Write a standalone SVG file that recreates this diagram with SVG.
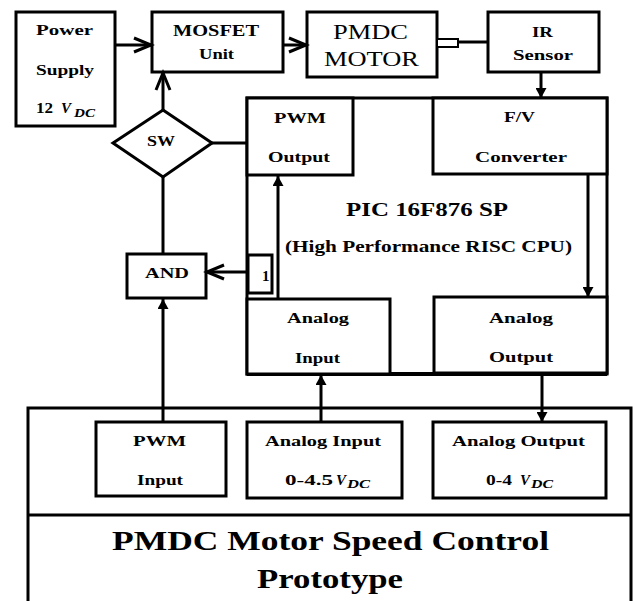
<svg xmlns="http://www.w3.org/2000/svg" width="633" height="601" viewBox="0 0 633 601">
<style>
.box{fill:#fff;stroke:#000;stroke-width:3}
.ln{fill:none;stroke:#000;stroke-width:3}
.t{font-weight:bold;fill:#000;font-size:15px}
.c{text-anchor:middle}
.reg{font-weight:normal;font-size:20px}
.it{font-style:italic}
.sub{font-style:italic;font-size:12px}
</style>
<defs>
<marker id="fa" markerUnits="userSpaceOnUse" viewBox="0 0 10 11" refX="10" refY="5.5" markerWidth="10" markerHeight="11" orient="auto">
<path d="M0,0 L10,5.5 L0,11 z" fill="#000"/>
</marker>
<marker id="oa" markerUnits="userSpaceOnUse" viewBox="-2 -2 22 18" refX="17" refY="7" markerWidth="22" markerHeight="18" orient="auto" overflow="visible">
<path d="M0,0 L17,7 L0,14" fill="none" stroke="#000" stroke-width="3"/>
</marker>
</defs>
<g font-family="Liberation Serif, Tinos, Noto Serif, DejaVu Serif, serif">
<g id="prototype">
<path class="ln" d="M28,601 V408 H631 V601"/>
<line class="ln" x1="28" y1="515" x2="631" y2="515"/>
<text class="t c" x="330.5" y="550" style="font-size:28px" textLength="437" lengthAdjust="spacingAndGlyphs">PMDC Motor Speed Control</text>
<text class="t c" x="330" y="588" style="font-size:28px" textLength="146" lengthAdjust="spacingAndGlyphs">Prototype</text>
</g>

<g id="pic">
<rect class="box" x="247" y="98" width="360" height="276"/>
<line x1="247" y1="374" x2="607" y2="374" stroke="#000" stroke-width="4"/>
<text class="t c" x="427" y="216" style="font-size:19px" textLength="162" lengthAdjust="spacingAndGlyphs">PIC 16F876 SP</text>
<text class="t c" x="428.5" y="252" style="font-size:16px" textLength="287" lengthAdjust="spacingAndGlyphs">(High Performance RISC CPU)</text>
</g>

<g id="power">
<rect class="box" x="16" y="12" width="99" height="114"/>
<text class="t c" x="64.5" y="35" textLength="57" lengthAdjust="spacingAndGlyphs">Power</text>
<text class="t c" x="65" y="75" textLength="58" lengthAdjust="spacingAndGlyphs">Supply</text>
<text class="t" y="113"><tspan x="36" textLength="17" lengthAdjust="spacingAndGlyphs">12</tspan><tspan class="it" x="61">V</tspan><tspan class="sub" x="74" y="117" textLength="21" lengthAdjust="spacingAndGlyphs">DC</tspan></text>
</g>

<g id="mosfet">
<rect class="box" x="152" y="12" width="131" height="60"/>
<text class="t c" x="216" y="36" style="font-size:16px" textLength="86" lengthAdjust="spacingAndGlyphs">MOSFET</text>
<text class="t c" x="216.5" y="59" textLength="35" lengthAdjust="spacingAndGlyphs">Unit</text>
</g>

<g id="motor">
<rect class="box" x="307" y="12" width="130" height="65"/>
<text class="t c reg" x="370.5" y="39" textLength="75" lengthAdjust="spacingAndGlyphs">PMDC</text>
<text class="t c reg" x="371.5" y="66" textLength="95" lengthAdjust="spacingAndGlyphs">MOTOR</text>
<rect x="437" y="39" width="21" height="8" fill="#fff" stroke="#000" stroke-width="2"/>
</g>

<g id="ir">
<rect class="box" x="488" y="12" width="111" height="60"/>
<text class="t c" x="542.5" y="37" textLength="21" lengthAdjust="spacingAndGlyphs">IR</text>
<text class="t c" x="543" y="60" textLength="60" lengthAdjust="spacingAndGlyphs">Sensor</text>
</g>

<g id="pwm-output">
<rect class="box" x="247" y="98" width="106" height="77"/>
<text class="t c" x="300" y="123" textLength="52" lengthAdjust="spacingAndGlyphs">PWM</text>
<text class="t c" x="299" y="162" textLength="62" lengthAdjust="spacingAndGlyphs">Output</text>
</g>

<g id="fv">
<rect class="box" x="433" y="98" width="174" height="76"/>
<text class="t c" x="519.5" y="122" textLength="31" lengthAdjust="spacingAndGlyphs">F/V</text>
<text class="t c" x="521" y="162" textLength="92" lengthAdjust="spacingAndGlyphs">Converter</text>
</g>

<g id="analog-input">
<rect class="box" x="247" y="299" width="143" height="75"/>
<text class="t c" x="318" y="323" textLength="62" lengthAdjust="spacingAndGlyphs">Analog</text>
<text class="t c" x="317.5" y="363" textLength="45" lengthAdjust="spacingAndGlyphs">Input</text>
</g>

<g id="analog-output">
<rect class="box" x="434" y="297" width="173" height="76"/>
<text class="t c" x="521" y="323" textLength="64" lengthAdjust="spacingAndGlyphs">Analog</text>
<text class="t c" x="521" y="362" textLength="64" lengthAdjust="spacingAndGlyphs">Output</text>
</g>

<g id="sw">
<polygon class="box" points="163,110 212,143 163,177 113,143"/>
<text class="t c" x="161" y="146" textLength="28" lengthAdjust="spacingAndGlyphs">SW</text>
</g>

<g id="and">
<rect class="box" x="127" y="254" width="79" height="44"/>
<text class="t c" x="167" y="278" textLength="44" lengthAdjust="spacingAndGlyphs">AND</text>
</g>

<g id="one">
<rect class="box" x="248" y="255" width="24" height="38"/>
<text class="t" x="262" y="281">1</text>
</g>

<g id="pwm-input">
<rect class="box" x="96" y="422" width="130" height="74"/>
<text class="t c" x="159.5" y="446" textLength="53" lengthAdjust="spacingAndGlyphs">PWM</text>
<text class="t c" x="160" y="485" textLength="46" lengthAdjust="spacingAndGlyphs">Input</text>
</g>

<g id="analog-input-range">
<rect class="box" x="247" y="422" width="155" height="76"/>
<text class="t c" x="323" y="446" textLength="116" lengthAdjust="spacingAndGlyphs">Analog Input</text>
<text class="t" y="485"><tspan x="285" textLength="48" lengthAdjust="spacingAndGlyphs">0-4.5</tspan><tspan class="it" x="336">V</tspan><tspan class="sub" x="347" y="488" textLength="23" lengthAdjust="spacingAndGlyphs">DC</tspan></text>
</g>

<g id="analog-output-range">
<rect class="box" x="433" y="422" width="173" height="76"/>
<text class="t c" x="518.5" y="446" textLength="133" lengthAdjust="spacingAndGlyphs">Analog Output</text>
<text class="t" y="485"><tspan x="486" textLength="26" lengthAdjust="spacingAndGlyphs">0-4</tspan><tspan class="it" x="520">V</tspan><tspan class="sub" x="531" y="488" textLength="22" lengthAdjust="spacingAndGlyphs">DC</tspan></text>
</g>

<g id="connectors">
<line class="ln" x1="115" y1="45" x2="151" y2="45" marker-end="url(#oa)"/>
<line class="ln" x1="283" y1="45" x2="306" y2="45" marker-end="url(#oa)"/>
<line class="ln" x1="458" y1="42" x2="488" y2="42"/>
<line class="ln" x1="541" y1="72" x2="541" y2="98" marker-end="url(#fa)"/>
<line class="ln" x1="588" y1="174" x2="588" y2="297" marker-end="url(#fa)"/>
<line class="ln" x1="278" y1="299" x2="278" y2="176" marker-end="url(#fa)"/>
<line class="ln" x1="212" y1="143" x2="247" y2="143"/>
<line class="ln" x1="163" y1="110" x2="163" y2="73" marker-end="url(#oa)"/>
<line class="ln" x1="163" y1="177" x2="163" y2="254"/>
<line class="ln" x1="247" y1="272" x2="207" y2="272" marker-end="url(#oa)"/>
<line class="ln" x1="163" y1="422" x2="163" y2="299" marker-end="url(#fa)"/>
<line class="ln" x1="321" y1="422" x2="321" y2="375" marker-end="url(#fa)"/>
<line class="ln" x1="542" y1="375" x2="542" y2="422" marker-end="url(#fa)"/>
</g>
</g>
</svg>
